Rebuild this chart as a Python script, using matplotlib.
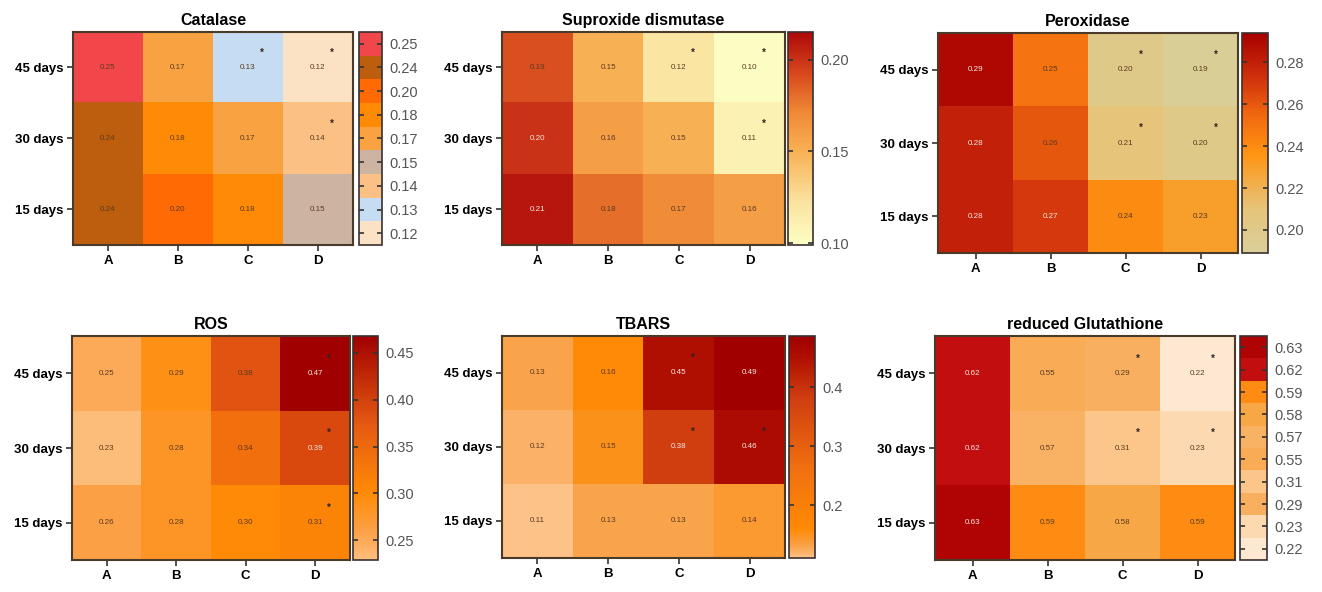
import numpy as np
import matplotlib
matplotlib.use("Agg")
import matplotlib.pyplot as plt
from matplotlib.colors import ListedColormap, BoundaryNorm, LinearSegmentedColormap, Normalize

plt.rcParams['font.family'] = ['Liberation Sans', 'DejaVu Sans']

groups = ["A", "B", "C", "D"]
days = ["45 days", "30 days", "15 days"]

# rows: 45, 30, 15 days ; columns A..D
catalase = [[0.25, 0.17, 0.13, 0.12],
            [0.24, 0.18, 0.17, 0.14],
            [0.24, 0.20, 0.18, 0.15]]
catalase_sig = [[0, 0, 1, 1], [0, 0, 0, 1], [0, 0, 0, 0]]

sod = [[0.19, 0.15, 0.12, 0.10],
       [0.20, 0.16, 0.15, 0.11],
       [0.21, 0.18, 0.17, 0.16]]
sod_sig = [[0, 0, 1, 1], [0, 0, 0, 1], [0, 0, 0, 0]]

perox = [[0.29, 0.25, 0.20, 0.19],
         [0.28, 0.26, 0.21, 0.20],
         [0.28, 0.27, 0.24, 0.23]]
perox_sig = [[0, 0, 1, 1], [0, 0, 1, 1], [0, 0, 0, 0]]

ros = [[0.25, 0.29, 0.38, 0.47],
       [0.23, 0.28, 0.34, 0.39],
       [0.26, 0.28, 0.30, 0.31]]
ros_sig = [[0, 0, 0, 1], [0, 0, 0, 1], [0, 0, 0, 1]]

tbars = [[0.13, 0.16, 0.45, 0.49],
         [0.12, 0.15, 0.38, 0.46],
         [0.11, 0.13, 0.13, 0.14]]
tbars_sig = [[0, 0, 1, 0], [0, 0, 1, 1], [0, 0, 0, 0]]

gsh = [[0.62, 0.55, 0.29, 0.22],
       [0.62, 0.57, 0.31, 0.23],
       [0.63, 0.59, 0.58, 0.59]]
gsh_sig = [[0, 0, 1, 1], [0, 0, 1, 1], [0, 0, 0, 0]]

catalase_levels = [0.12, 0.13, 0.14, 0.15, 0.17, 0.18, 0.20, 0.24, 0.25]
catalase_colors = ['#FCE2C4', '#C6DCF3', '#FBC084', '#CDB3A2', '#F8A242',
                   '#FF8A05', '#FF6A05', '#BD5E0E', '#F2474A']
gsh_levels = [0.22, 0.23, 0.29, 0.31, 0.55, 0.57, 0.58, 0.59, 0.62, 0.63]
gsh_colors = ['#FEE8D2', '#FDD9B2', '#F9AF60', '#FCC68A', '#F9AB55',
              '#F9B164', '#F8A746', '#FF8C12', '#C20E0E', '#B00404']

W, H = 1322, 592
fig = plt.figure(figsize=(W / 100, H / 100), dpi=100)

def rect(l, r, t, b):
    return [l / W, 1 - b / H, (r - l) / W, (b - t) / H]

panels = [
    ("Catalase", catalase, catalase_sig, (73, 353, 32, 245), (359, 382)),
    ("Suproxide dismutase", sod, sod_sig, (502, 785, 32, 245), (788, 813)),
    ("Peroxidase", perox, perox_sig, (938, 1238, 33, 253), (1242, 1268)),
    ("ROS", ros, ros_sig, (72, 350, 336, 560), (353, 378)),
    ("TBARS", tbars, tbars_sig, (502, 785, 336, 558), (789, 815)),
    ("reduced Glutathione", gsh, gsh_sig, (935, 1235, 336, 560), (1240, 1267)),
]

cont_cmaps = {
    "Suproxide dismutase": (LinearSegmentedColormap.from_list("sod", [
        (0.0, '#FDFFC4'), (0.2, '#FAE3A0'), (0.45, '#F8AE52'),
        (0.62, '#F08A36'), (0.8, '#D84A1E'), (1.0, '#AE0808')]), 0.099, 0.215, [0.10, 0.15, 0.20]),
    "Peroxidase": (LinearSegmentedColormap.from_list("pox", [
        (0.0, '#D9CF98'), (0.2, '#E6C47A'), (0.45, '#FF9412'),
        (0.62, '#F26A10'), (0.8, '#D0300C'), (1.0, '#A80000')]), 0.189, 0.294, [0.20, 0.22, 0.24, 0.26, 0.28]),
    "ROS": (LinearSegmentedColormap.from_list("ros", [
        (0.0, '#FDBE7C'), (0.12, '#FCA24A'), (0.3, '#FF8A05'),
        (0.6, '#E65A12'), (0.8, '#C42E08'), (1.0, '#A00000')]), 0.229, 0.468, [0.25, 0.30, 0.35, 0.40, 0.45]),
    "TBARS": (LinearSegmentedColormap.from_list("tb", [
        (0.0, '#FDC288'), (0.03, '#FBAE60'), (0.06, '#F9A042'),
        (0.13, '#FF8A05'), (0.4, '#F07010'), (0.72, '#D03E10'),
        (0.9, '#B01000'), (1.0, '#A00000')]), 0.11, 0.487, [0.2, 0.3, 0.4]),
}

for title, data, sig, (l, r, t, b), (cl, cr) in panels:
    arr = np.array(data)
    ax = fig.add_axes(rect(l, r, t, b))
    cax = fig.add_axes(rect(cl, cr, t, b))
    if title in ("Catalase", "reduced Glutathione"):
        levels = catalase_levels if title == "Catalase" else gsh_levels
        colors = catalase_colors if title == "Catalase" else gsh_colors
        idx = np.array([[levels.index(v) for v in row] for row in data])
        cmap = ListedColormap(colors)
        norm = BoundaryNorm(np.arange(len(levels) + 1) - 0.5, len(levels))
        ax.imshow(idx, cmap=cmap, norm=norm, aspect='auto')
        rgba = cmap(norm(idx))
        cb = fig.colorbar(matplotlib.cm.ScalarMappable(norm=norm, cmap=cmap), cax=cax,
                          ticks=np.arange(len(levels)))
        cb.ax.set_yticklabels([f"{v:.2f}" for v in levels])
        thr = 0.35
    else:
        cmap, vmin, vmax, ticks = cont_cmaps[title]
        norm = Normalize(vmin, vmax)
        ax.imshow(arr, cmap=cmap, norm=norm, aspect='auto')
        rgba = cmap(norm(arr))
        cb = fig.colorbar(matplotlib.cm.ScalarMappable(norm=norm, cmap=cmap), cax=cax, ticks=ticks)
        cb.ax.set_yticklabels([f"{v:g}" if title == "TBARS" else f"{v:.2f}" for v in ticks])
        thr = 0.45
    cb.minorticks_off()
    cb.outline.set_edgecolor('#3a3030')
    cb.outline.set_linewidth(1.2)
    cb.ax.yaxis.set_ticks_position('both')
    cb.ax.tick_params(axis='y', which='major', direction='in', length=3.5, width=1.2, color='#333333',
                      labelsize=10.5, labelcolor='#555555', pad=5, left=True, right=True,
                      labelleft=False, labelright=True)
    for i in range(arr.shape[0]):
        for j in range(arr.shape[1]):
            c = rgba[i, j]
            lum = 0.299 * c[0] + 0.587 * c[1] + 0.114 * c[2]
            tc = '#F4E8E0' if lum < thr else '#5a3a20'
            ax.text(j, i, f"{data[i][j]:.2f}", ha='center', va='center', fontsize=5.8, color=tc)
            if sig[i][j]:
                ax.text(j + 0.2, i - 0.2, "*", ha='center', va='center', fontsize=7,
                        color='#332222', fontweight='bold')
    ax.set_xticks(range(len(groups)))
    ax.set_xticklabels(groups, fontweight='bold', fontsize=9.5)
    ax.set_yticks(range(len(days)))
    ax.set_yticklabels(days, fontweight='bold', fontsize=9.5)
    ax.tick_params(length=4, width=1.2, color='#333333', pad=3)
    for s in ax.spines.values():
        s.set_edgecolor('#4a3a2a')
        s.set_linewidth(1.5)
    ax.set_title(title, fontweight='bold', fontsize=11.5, pad=5)

fig.savefig("out.png", dpi=100)
